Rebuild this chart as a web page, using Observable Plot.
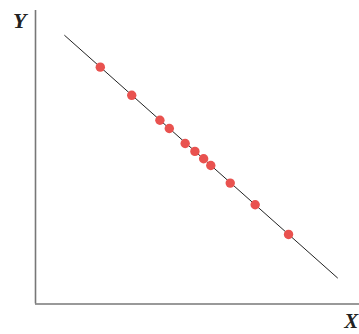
<!DOCTYPE html>
<html>
<head>
<meta charset="utf-8">
<script src="https://cdn.jsdelivr.net/npm/d3@7"></script>
<script src="https://cdn.jsdelivr.net/npm/@observablehq/plot@0.6"></script>
<style>
  html, body { margin: 0; padding: 0; background: #fff; }
</style>
</head>
<body>
<div id="chart"></div>
<script>
const pointX = [2.00, 2.97, 3.84, 4.13, 4.62, 4.92, 5.19, 5.41, 6.01, 6.78, 7.81];
const pointY = [8.07, 7.11, 6.26, 5.98, 5.47, 5.20, 4.95, 4.72, 4.12, 3.38, 2.37];
const lineX = [0.90, 9.32];
const lineY = [9.15, 0.89];
const axisLabels = ["X", "Y"];

const points = pointX.map((x, i) => ({x, y: pointY[i]}));
const fitLine = lineX.map((x, i) => ({x, y: lineY[i]}));

const chart = Plot.plot({
  width: 359,
  height: 334,
  marginLeft: 35,
  marginRight: 0,
  marginTop: 10,
  marginBottom: 30.5,
  x: {domain: [0, 10], axis: null},
  y: {domain: [0, 10], axis: null},
  style: {background: "#fff", overflow: "visible"},
  marks: [
    Plot.ruleX([0], {stroke: "#777", strokeWidth: 1.6}),
    Plot.ruleY([0], {stroke: "#777", strokeWidth: 1.6}),
    Plot.line(fitLine, {x: "x", y: "y", stroke: "#222", strokeWidth: 1}),
    Plot.dot(points, {x: "x", y: "y", r: 4.7, fill: "#e9524f", stroke: "none"}),
    Plot.text([axisLabels[1]], {x: -0.49, y: 9.66, text: d => d, fontSize: 22, fontStyle: "italic", fontWeight: "bold", fontFamily: "Liberation Serif, serif", fill: "#222"}),
    Plot.text([axisLabels[0]], {x: 9.96, y: -0.6, text: d => d, textAnchor: "end", fontSize: 21, fontStyle: "italic", fontWeight: "bold", fontFamily: "Liberation Serif, serif", fill: "#222"})
  ]
});
document.getElementById("chart").appendChild(chart);
</script>
</body>
</html>
